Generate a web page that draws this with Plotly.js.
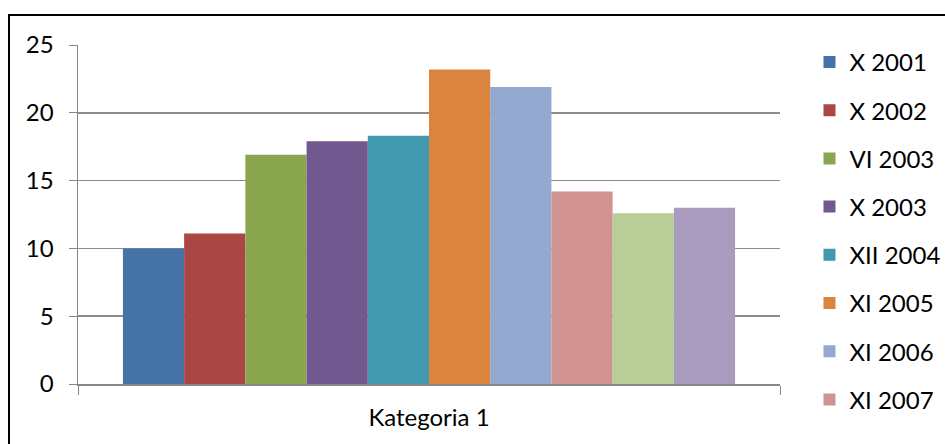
<!DOCTYPE html>
<html>
<head>
<meta charset="utf-8">
<script src="https://cdn.plot.ly/plotly-3.0.1.min.js"></script>
<style>
  html, body { margin: 0; padding: 0; background: #ffffff; }
  #chart { width: 945px; height: 444px; }
</style>
</head>
<body>
<div id="chart"></div>
<script>
// One category, one bar per survey date
const categories = ['Kategoria 1'];
const seriesNames = ['X 2001', 'X 2002', 'VI 2003', 'X 2003', 'XII 2004',
                     'XI 2005', 'XI 2006', 'XI 2007', 'XI 2008', 'XI 2009'];
const seriesValues = [10.0, 11.1, 16.9, 17.9, 18.3, 23.2, 21.9, 14.2, 12.6, 13.0];
const seriesColors = ['#4572A7', '#AA4643', '#89A54E', '#71588F', '#4198AF',
                      '#DB843D', '#93A9CF', '#D19392', '#B9CD96', '#A99BBD'];
// Only the first eight series fit in the legend column
const legendVisible = [true, true, true, true, true, true, true, true, false, false];
const yTicks = [0, 5, 10, 15, 20, 25];

const FONT = 'Lato, "Open Sans", "DejaVu Sans", sans-serif';
const FS = 24;

const traces = seriesNames.map((name, i) => ({
  type: 'bar',
  name: name,
  x: categories,
  y: [seriesValues[i]],
  marker: { color: seriesColors[i], line: { width: 0 } },
  showlegend: legendVisible[i],
  legendgroup: 'g' + i,
  hoverinfo: 'name+y'
}));

const layout = {
  width: 945,
  height: 444,
  margin: { l: 78, r: 165, t: 45, b: 60, pad: 0, autoexpand: false },
  paper_bgcolor: '#ffffff',
  plot_bgcolor: '#ffffff',
  font: { family: FONT, size: FS, color: '#000000' },
  barmode: 'group',
  bargap: 0.128,
  bargroupgap: 0,
  xaxis: {
    type: 'category',
    tickson: 'boundaries',
    ticks: 'outside',
    ticklen: 9,
    tickcolor: '#868686',
    showline: true,
    linecolor: '#868686',
    linewidth: 1.5,
    showgrid: false,
    zeroline: false,
    tickfont: { family: FONT, size: FS, color: '#000000' },
    ticklabelstandoff: 12,
    fixedrange: true
  },
  yaxis: {
    range: [0, 25],
    tickvals: yTicks,
    ticks: 'outside',
    ticklen: 8,
    tickcolor: '#868686',
    showline: true,
    linecolor: '#868686',
    linewidth: 1.5,
    showgrid: true,
    gridcolor: '#8c8c8c',
    gridwidth: 1.5,
    zeroline: false,
    tickfont: { family: FONT, size: FS, color: '#000000' },
    ticklabelstandoff: 10,
    fixedrange: true
  },
  showlegend: true,
  legend: {
    x: 1.042,
    xanchor: 'left',
    y: 1.015,
    yanchor: 'top',
    traceorder: 'grouped',
    tracegroupgap: 14,
    maxheight: 430,
    font: { family: FONT, size: FS, color: '#000000' },
    bgcolor: 'rgba(0,0,0,0)',
    borderwidth: 0
  },
  // Chart frame: left and top edges of the chart area border
  shapes: [{
    type: 'path',
    xref: 'paper',
    yref: 'paper',
    path: 'M -0.0983 -0.2 L -0.0983 1.0885 L 1.3 1.0885',
    line: { color: '#000000', width: 2 }
  }]
};

Plotly.newPlot('chart', traces, layout, { displayModeBar: false, staticPlot: true });
</script>
</body>
</html>
